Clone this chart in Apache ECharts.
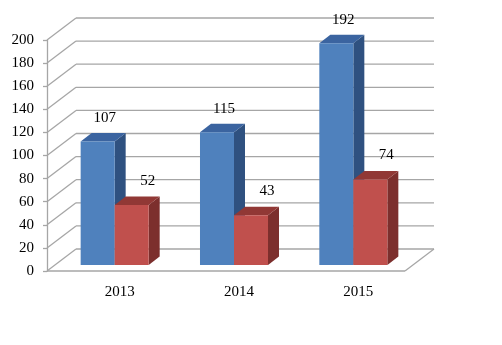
<!DOCTYPE html>
<html>
<head>
<meta charset="utf-8">
<script src="https://cdn.jsdelivr.net/npm/echarts@6/dist/echarts.min.js"></script>
<style>
html, body { margin: 0; padding: 0; background: #fff; }
#main { width: 502px; height: 345px; }
</style>
</head>
<body>
<div id="main"></div>
<script>
// 数据
var categories = ['2013', '2014', '2015'];
var blueValues = [107, 115, 192];
var redValues = [52, 43, 74];
var yTicks = [0, 20, 40, 60, 80, 100, 120, 140, 160, 180, 200];

var chart = echarts.init(document.getElementById('main'));

// 3D 深度偏移 (像素)
var WALL = [29, -22];      // 后墙
var BAR_FRONT = [8, -6];   // 柱子正面
var BAR_DEPTH = [11, -8.5]; // 柱子厚度
var LINE_COLOR = '#a6a6a6';
var FONT = '"Liberation Serif", "Times New Roman", serif';

// 墙和地面的网格线
function renderWall(params, api) {
    var v = api.value(1);
    var cs = params.coordSys;
    var x0 = cs.x, x1 = cs.x + cs.width;
    var y = api.coord([0, v])[1];
    var style = { stroke: LINE_COLOR, lineWidth: 1.3 };
    var children = [
        { type: 'line', shape: { x1: x0, y1: y, x2: x0 + WALL[0], y2: y + WALL[1] }, style: style },
        { type: 'line', shape: { x1: x0 + WALL[0], y1: y + WALL[1], x2: x1 + WALL[0], y2: y + WALL[1] }, style: style }
    ];
    if (v === 0) {
        children.push({ type: 'line', shape: { x1: x0, y1: y, x2: x1, y2: y }, style: style });
        children.push({ type: 'line', shape: { x1: x1, y1: y, x2: x1 + WALL[0], y2: y + WALL[1] }, style: style });
    }
    return { type: 'group', children: children };
}

// 3D 柱子
function makeBar(side, colors, labelOff) {
    return function (params, api) {
        var cat = api.value(0), v = api.value(1);
        var base = api.coord([cat, 0]);
        var top = api.coord([cat, v]);
        var band = api.size([1, 0])[0];
        var w = band * 0.285;
        var left = base[0] + (side === 0 ? -w : 0) + BAR_FRONT[0];
        var right = left + w;
        var yb = base[1] + BAR_FRONT[1];
        var yt = top[1] + BAR_FRONT[1];
        var dx = BAR_DEPTH[0], dy = BAR_DEPTH[1];
        return {
            type: 'group',
            children: [
                { type: 'polygon', shape: { points: [[right, yt], [right + dx, yt + dy], [right + dx, yb + dy], [right, yb]] }, style: { fill: colors[2] } },
                { type: 'polygon', shape: { points: [[left, yt], [left + dx, yt + dy], [right + dx, yt + dy], [right, yt]] }, style: { fill: colors[1] } },
                { type: 'rect', shape: { x: left, y: yt, width: w, height: yb - yt }, style: { fill: colors[0] } },
                { type: 'text', x: (left + right) / 2 + labelOff[0], y: yt + labelOff[1],
                  style: { text: String(v), fill: '#000', font: '15px ' + FONT, align: 'center', verticalAlign: 'middle' } }
            ]
        };
    };
}

function pairs(vals) {
    return vals.map(function (v, i) { return [i, v]; });
}

var option = {
    animation: false,
    grid: { left: 47, right: 97, top: 40, bottom: 74 },
    xAxis: {
        type: 'category',
        data: categories,
        axisLine: { show: false },
        axisTick: { show: false },
        axisLabel: { color: '#000', fontFamily: FONT, fontSize: 15, margin: 14, padding: [0, 0, 0, 26] }
    },
    yAxis: {
        type: 'value',
        min: 0,
        max: 200,
        interval: 20,
        splitLine: { show: false },
        axisLine: { show: true, lineStyle: { color: LINE_COLOR, width: 1.3 } },
        axisTick: { show: true, length: 4, lineStyle: { color: LINE_COLOR, width: 1.3 } },
        axisLabel: { color: '#000', fontFamily: FONT, fontSize: 15, margin: 13 }
    },
    series: [
        {
            type: 'custom',
            renderItem: renderWall,
            encode: { x: 0, y: 1 },
            data: yTicks.map(function (t) { return [0, t]; }),
            z: 1
        },
        {
            type: 'custom',
            name: 'blue',
            renderItem: makeBar(0, ['#4f81bd', '#3b64a0', '#2f5180'], [7, -23]),
            encode: { x: 0, y: 1 },
            data: pairs(blueValues),
            z: 2
        },
        {
            type: 'custom',
            name: 'red',
            renderItem: makeBar(1, ['#c0504d', '#913835', '#7c2f2d'], [16, -24]),
            encode: { x: 0, y: 1 },
            data: pairs(redValues),
            z: 3
        }
    ]
};

chart.setOption(option);
</script>
</body>
</html>
